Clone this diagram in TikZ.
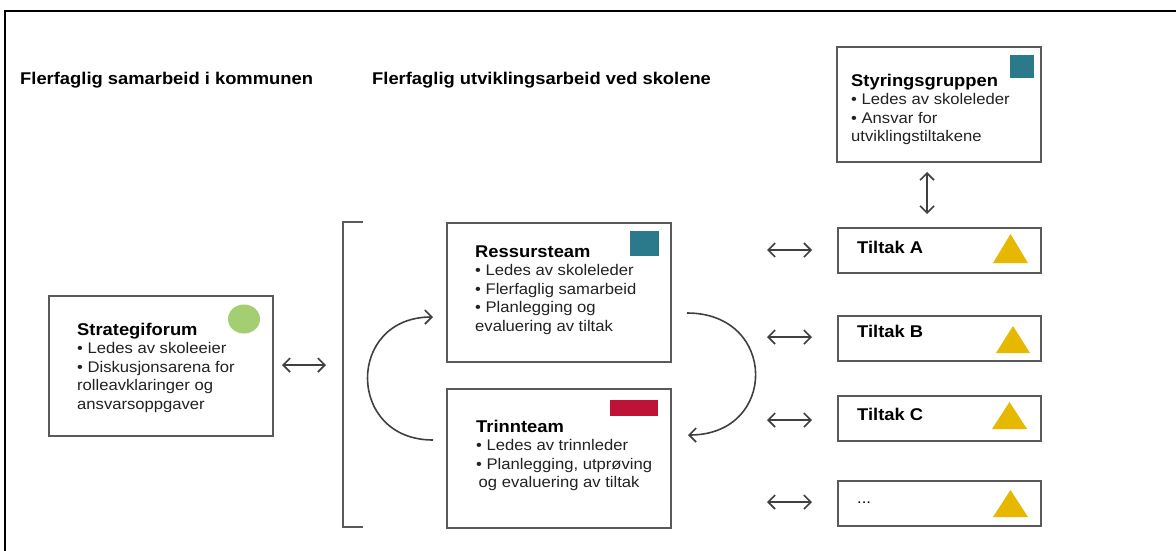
\documentclass[tikz,border=0pt]{standalone}
\usepackage{fontspec}
\setmainfont[FakeStretch=1.08]{Liberation Sans}
\usetikzlibrary{arrows.meta}
\definecolor{tealsq}{HTML}{2B7A8B}
\definecolor{redsq}{HTML}{BE1237}
\definecolor{greencirc}{HTML}{A3CF72}
\definecolor{yeltri}{HTML}{E6B800}
\definecolor{boxgray}{HTML}{5A5A5A}
\definecolor{arrgray}{HTML}{404040}
\definecolor{bodytext}{HTML}{222222}
\begin{document}
\begin{tikzpicture}[x=1pt,y=-1pt,
  box/.style={draw=boxgray, line width=1.5pt, fill=white, inner sep=0pt, anchor=north west},
  bigbox/.style={box, minimum width=224pt, minimum height=138pt},
  tiltakbox/.style={box, minimum width=203pt, minimum height=45pt},
  txt/.style={anchor=base west, inner sep=0pt, align=left, font=\fontsize{15.4}{18.5}\selectfont, text=bodytext},
  hd/.style={anchor=base west, inner sep=0pt, font=\fontsize{17}{20}\selectfont\bfseries, text=black},
  tip/.tip={Straight Barb[length=7pt,width=14pt]},
  dbl/.style={draw=arrgray, line width=1.6pt, tip-tip},
  one/.style={draw=arrgray, line width=1.6pt, -tip},
  tri/.style={fill=yeltri, draw=none},
]
\useasboundingbox (0,0) rectangle (1176,550);
% outer frame
\draw[line width=2pt] (5,551) -- (5,11) -- (1177,11);

% headings
\node[hd] (h1) at (20,84) {Flerfaglig samarbeid i kommunen};
\node[hd] (h2) at (372,84) {Flerfaglig utviklingsarbeid ved skolene};

% Styringsgruppen (anchor = baseline of last line)
\node[box, minimum width=204pt, minimum height=115pt] (styr) at (836,46) {};
\fill[tealsq] (1010,55) rectangle (1034,78);
\node[txt] (styrt) at (851,141.5) {\textcolor{black}{\bfseries\fontsize{17}{18.5}\selectfont Styringsgruppen}\\
• Ledes av skoleleder\\• Ansvar for\\utviklingstiltakene};

% Strategiforum
\node[box, minimum width=224pt, minimum height=140pt] (strat) at (48,295) {};
\fill[greencirc] (244,319) ellipse [x radius=16, y radius=14.5];
\node[txt] (stratt) at (77,409) {\textcolor{black}{\bfseries\fontsize{17}{18.5}\selectfont Strategiforum}\\
• Ledes av skoleeier\\• Diskusjonsarena for\\rolleavklaringer og\\ansvarsoppgaver};

% Ressursteam
\node[bigbox, minimum height=139pt] (ress) at (446,222) {};
\fill[tealsq] (630,231) rectangle (659,256);
\node[txt] (resst) at (475,331) {\textcolor{black}{\bfseries\fontsize{17}{18.5}\selectfont Ressursteam}\\
• Ledes av skoleleder\\• Flerfaglig samarbeid\\• Planlegging og\\evaluering av tiltak};

% Trinnteam
\node[bigbox, minimum height=139pt] (trinn) at (446,388) {};
\fill[redsq] (610,400) rectangle (658,416);
\node[txt] (trinnt) at (476,487.5) {\textcolor{black}{\bfseries\fontsize{17}{18.5}\selectfont Trinnteam}\\
• Ledes av trinnleder\\• Planlegging, utprøving\\\hspace{2.5pt}og evaluering av tiltak};

% bracket
\draw[draw=boxgray, line width=1.5pt] (363,222) -- (343,222) -- (343,527) -- (363,527);

% Tiltak boxes
\node[tiltakbox] (tA) at (837,227) {};
\node[tiltakbox] (tB) at (837,315) {};
\node[tiltakbox] (tC) at (837,395) {};
\node[tiltakbox] (tD) at (837,480) {};
\node[hd] (tAt) at (857,253) {Tiltak A};
\node[hd] (tBt) at (857,337) {Tiltak B};
\node[hd] (tCt) at (857,420) {Tiltak C};
\node[hd, font=\fontsize{15.4}{18.5}\selectfont] (tDt) at (857,503) {...};
\fill[tri] (993,263) -- (1028,263) -- (1010.5,234) -- cycle;
\fill[tri] (996,353) -- (1030,353) -- (1013,326) -- cycle;
\fill[tri] (992,429) -- (1027,429) -- (1009.5,402) -- cycle;
\fill[tri] (993,517) -- (1028,517) -- (1010.5,490) -- cycle;

% connector end points
\coordinate (sv1) at (927,172);
\coordinate (sv2) at (927,214);
\coordinate (sl) at (282,365);
\coordinate (sr) at (326,365);
\coordinate (aL) at (767,250);  \coordinate (aR) at (812,250);
\coordinate (bL) at (767,337);  \coordinate (bR) at (812,337);
\coordinate (cL) at (767,420);  \coordinate (cR) at (812,420);
\coordinate (dL) at (767,502);  \coordinate (dR) at (812,502);
\coordinate (lcs) at (433,440); \coordinate (lce) at (433,317);
\coordinate (rcs) at (687,313); \coordinate (rce) at (688,435);

% double arrows
\draw[dbl] (sv1) -- (sv2);
\draw[dbl] (sl) -- (sr);
\draw[dbl] (aL) -- (aR);
\draw[dbl] (bL) -- (bR);
\draw[dbl] (cL) -- (cR);
\draw[dbl] (dL) -- (dR);

% cycle arrows
\draw[one] (lcs) .. controls (346,440) and (346,317) .. (lce);
\draw[one] (rcs) .. controls (778,313) and (778,435) .. (rce);
\end{tikzpicture}
\end{document}
